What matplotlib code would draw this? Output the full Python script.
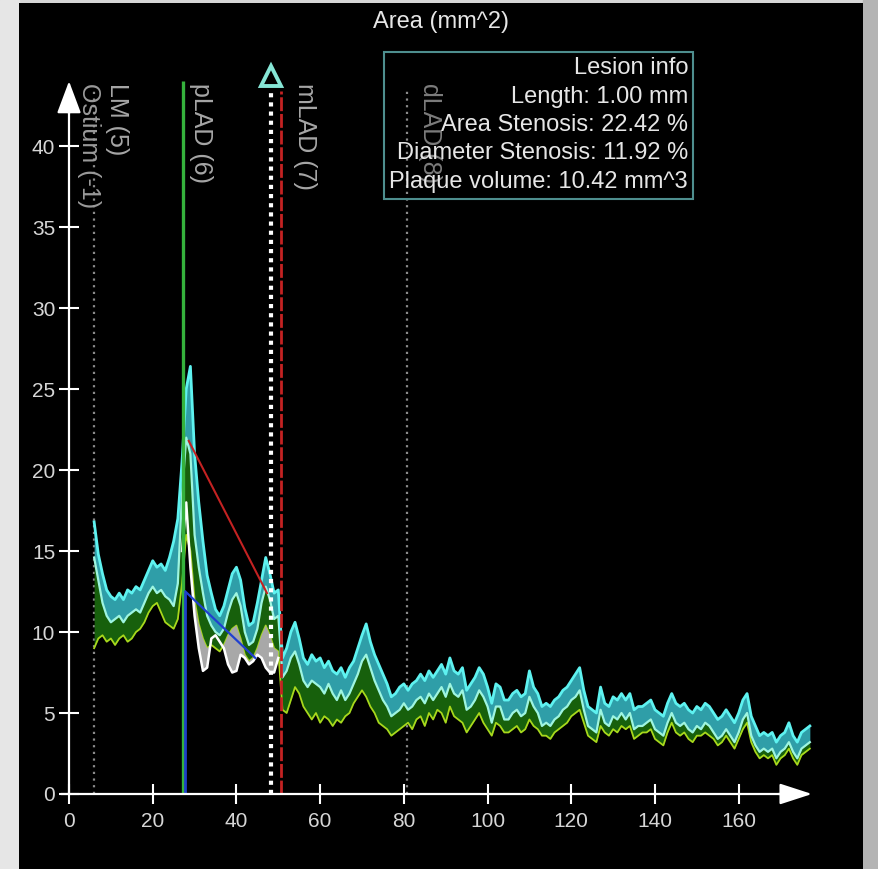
import matplotlib
matplotlib.use("Agg")
import matplotlib.pyplot as plt
import numpy as np

plt.rcParams['font.family'] = ['Liberation Sans', 'DejaVu Sans']

# distance along the vessel (mm), one sample per mm
dist = list(range(6, 178))

# outer wall area (top edge of the cyan band)
outer = [16.8, 14.8, 13.6, 12.6, 12.2, 12.0, 12.4, 12.0, 12.6, 12.4,
         12.8, 12.6, 13.2, 13.8, 14.4, 14.0, 14.2, 13.8, 14.6, 15.6,
         17.0, 20.5, 25.0, 26.4, 21.0, 18.0, 15.6, 13.5, 12.4, 11.4,
         11.0, 11.6, 12.6, 13.6, 14.0, 13.2, 11.5, 10.4, 10.6, 11.8,
         13.2, 14.6, 13.6, 12.4, 12.6, 8.4, 9.0, 10.0, 10.6, 9.6,
         8.4, 8.0, 8.6, 8.2, 8.4, 7.8, 8.2, 7.6, 7.4, 7.8,
         7.2, 7.8, 8.2, 9.0, 9.8, 10.5, 9.4, 8.6, 8.0, 7.4,
         6.8, 6.0, 6.2, 6.6, 6.8, 6.4, 6.8, 7.0, 7.4, 7.0,
         7.6, 7.2, 7.6, 8.0, 7.4, 8.4, 7.6, 7.4, 7.8, 6.4,
         6.8, 7.2, 7.8, 7.4, 6.6, 5.6, 6.8, 6.6, 5.8, 5.8,
         6.2, 6.4, 6.0, 6.2, 7.6, 6.6, 6.2, 5.4, 5.6, 5.4,
         5.8, 6.0, 6.4, 6.6, 7.0, 7.4, 7.8, 6.4, 5.4, 5.2,
         5.0, 6.6, 5.6, 5.4, 6.0, 5.8, 6.2, 5.8, 6.2, 5.2,
         5.4, 5.4, 5.6, 5.8, 5.2, 5.0, 4.8, 5.6, 6.2, 5.6,
         5.4, 5.6, 5.2, 5.0, 5.4, 5.2, 5.6, 5.4, 5.0, 4.6,
         4.8, 5.2, 4.8, 4.4, 5.0, 5.8, 6.2, 4.8, 4.2, 3.6,
         3.8, 3.6, 3.8, 3.2, 3.6, 3.8, 4.4, 3.6, 3.2, 3.8,
         4.0, 4.2]

# inner edge of the cyan band
inner = [14.6, 13.2, 11.8, 11.0, 10.6, 10.8, 11.0, 10.6, 11.0, 11.2,
         11.4, 11.2, 11.8, 12.4, 12.8, 12.4, 12.6, 12.2, 12.0, 11.6,
         13.0, 18.5, 22.0, 21.0, 16.0, 14.0, 12.4, 11.0, 10.4, 10.0,
         9.8, 10.2, 11.2, 12.0, 12.4, 11.6, 10.0, 9.2, 9.4, 10.2,
         11.8, 12.8, 12.0, 10.8, 11.0, 7.2, 7.6, 8.4, 8.8, 8.0,
         7.0, 6.6, 7.0, 6.8, 6.6, 6.2, 6.8, 6.2, 5.8, 6.4,
         5.8, 6.2, 6.8, 7.4, 8.2, 8.6, 7.8, 7.0, 6.4, 5.8,
         5.4, 4.8, 5.0, 5.2, 5.6, 5.2, 5.4, 5.8, 6.0, 5.6,
         6.2, 5.8, 6.2, 6.6, 6.0, 6.8, 6.2, 6.0, 6.4, 5.2,
         5.4, 5.8, 6.4, 6.0, 5.4, 4.4, 5.4, 5.4, 4.6, 4.6,
         5.0, 5.2, 4.8, 5.0, 6.0, 5.4, 5.0, 4.2, 4.4, 4.2,
         4.6, 4.8, 5.2, 5.4, 5.8, 6.0, 6.4, 5.2, 4.2, 4.0,
         3.8, 5.2, 4.4, 4.2, 4.8, 4.6, 5.0, 4.6, 5.0, 4.0,
         4.2, 4.2, 4.4, 4.6, 4.0, 3.8, 3.6, 4.4, 5.0, 4.4,
         4.2, 4.4, 4.0, 3.8, 4.2, 4.0, 4.4, 4.2, 3.8, 3.4,
         3.6, 4.0, 3.6, 3.2, 3.8, 4.6, 5.0, 3.6, 3.0, 2.6,
         2.8, 2.6, 2.8, 2.2, 2.6, 2.8, 3.2, 2.6, 2.2, 2.8,
         3.0, 3.2]

# bottom of the green band
green = [9.0, 9.6, 9.8, 9.4, 9.6, 9.2, 9.6, 9.8, 9.4, 9.6,
         10.0, 10.2, 10.6, 11.2, 11.6, 11.8, 11.2, 10.6, 10.4, 10.2,
         10.8, 13.0, 16.0, 15.0, 12.0, 10.5, 9.6, 9.0, 9.2, 9.0,
         8.8, 9.2, 9.8, 10.2, 10.4, 9.6, 8.6, 8.2, 8.4, 9.0,
         9.8, 10.4, 9.8, 9.0, 8.8, 5.2, 5.0, 5.8, 6.6, 6.2,
         5.4, 5.0, 4.6, 5.0, 4.4, 4.8, 4.6, 4.2, 4.6, 4.4,
         4.8, 5.0, 5.6, 6.0, 6.4, 6.0, 5.4, 5.0, 4.4, 4.2,
         4.0, 3.6, 3.8, 4.0, 4.2, 4.4, 4.0, 4.6, 4.8, 4.2,
         5.0, 4.6, 5.2, 5.0, 4.4, 5.4, 4.8, 4.6, 4.4, 3.8,
         4.2, 4.6, 5.0, 4.4, 4.0, 3.6, 4.4, 4.2, 3.8, 3.8,
         4.0, 4.2, 3.8, 4.0, 4.6, 4.2, 4.0, 3.6, 3.6, 3.4,
         3.8, 4.0, 4.2, 4.4, 4.8, 5.0, 5.2, 4.4, 3.6, 3.4,
         3.2, 4.2, 3.8, 3.6, 4.0, 3.8, 4.2, 4.0, 4.2, 3.4,
         3.6, 3.8, 3.8, 4.0, 3.4, 3.2, 3.0, 3.8, 4.4, 3.8,
         3.6, 3.8, 3.4, 3.2, 3.6, 3.6, 3.8, 3.6, 3.4, 3.0,
         3.2, 3.6, 3.2, 2.8, 3.4, 4.0, 4.4, 3.2, 2.6, 2.2,
         2.4, 2.2, 2.4, 1.8, 2.2, 2.4, 2.8, 2.2, 1.8, 2.4,
         2.6, 2.8]

# lumen in the lesion segment (white outline)
lumen_x = list(range(27, 51))
lumen = [15.0, 18.0, 14.0, 11.0, 9.0, 7.6, 7.8, 9.6, 9.8, 9.4,
         9.0, 8.0, 7.5, 7.6, 8.6, 8.4, 8.0, 8.2, 8.6, 8.4,
         7.8, 7.5, 7.5, 8.4]

# reference lines of the lesion
ref_x = [28.6, 47.3]
ref_outer = [21.8, 12.4]
ref_lumen = [12.5, 8.4]

# segment markers
seg_pos = [6.0, 27.2, 50.6, 80.7]
lesion_pos = 48.3
info_lines = ["Lesion info", "Length: 1.00 mm", "Area Stenosis: 22.42 %",
              "Diameter Stenosis: 11.92 %", "Plaque volume: 10.42 mm^3"]

X_END = 177.5
Y_END = 44.0

fig = plt.figure(figsize=(8.79, 8.69), dpi=100, facecolor='#d6d6d6')
fig.patches.append(plt.Rectangle((0, 0), 19/879, 1, transform=fig.transFigure,
                                 color='#e6e6e6', zorder=-2))
fig.patches.append(plt.Rectangle((863/879, 0), 16/879, 1, transform=fig.transFigure,
                                 color='#b4b4b4', zorder=-2))
ax = fig.add_axes([19/879, 0, 844/879, 866/869])
ax.set_facecolor('black')
ax.set_xlim(-11.95, 189.7)
ax.set_ylim(-4.63, 48.83)

d = np.array(dist)
o = np.array(outer)
i_ = np.array(inner)
g = np.array(green)

# green band and cyan band
ax.fill_between(d, g, i_, color='#17600c', lw=0, zorder=2)
ax.plot(d, g, color='#a8d81c', lw=1.3, zorder=3)
ax.fill_between(d, i_, o, color='#2f9ea8', lw=0, zorder=4)
ax.plot(d, i_, color='#9ef5e0', lw=1.6, zorder=5)
ax.plot(d, o, color='#5ef2f0', lw=2.0, zorder=5)

# lumen outline with grey plaque fill
lx = np.array(lumen_x)
lv = np.array(lumen)
gseg = g[(d >= 27) & (d <= 50)]
ax.fill_between(lx, lv, gseg, where=gseg > lv, interpolate=True,
                color='#a8a8a8', lw=0, zorder=3.5)
ax.plot(lx, lv, color='white', lw=1.8, zorder=3.6)

# vertical markers
ax.vlines(seg_pos[0], 0, 43.6, colors='#8a8a8a', linestyles=(0, (1, 2)), lw=1.6, zorder=1)
ax.vlines(seg_pos[1], 0, 44.0, colors='#35b23c', lw=2.4, zorder=6)
ax.vlines(seg_pos[1] + 0.6, 0, 12.5, colors='#1e3fc8', lw=2.0, zorder=6)
ax.vlines(seg_pos[2], 0, 43.4, colors='#c42222', linestyles=(0, (5, 1)), lw=2.0, zorder=6)
ax.vlines(seg_pos[3], 0, 43.6, colors='#8a8a8a', linestyles=(0, (1, 2)), lw=1.6, zorder=1)
ax.vlines(lesion_pos, 0, 43.3, colors='white', linestyles=(0, (1, 1.2)), lw=3.0, zorder=7)
ax.plot([lesion_pos], [44.3], marker='^', ms=15, mfc='none', mec='#86e6d6',
        mew=2.8, zorder=8)

ax.plot(ref_x, ref_outer, color='#c42222', lw=1.5, zorder=6)
ax.plot([27.8, 44.5], ref_lumen, color='#2040d0', lw=1.6, zorder=6)

# rotated segment labels
lab_kw = dict(rotation=-90, va='top', ha='center', fontsize=18, zorder=9)
ax.text(4.8, 43.9, "Ostium (-1)", color='#9a9a9a', **lab_kw)
ax.text(11.4, 43.9, "LM (5)", color='#a6a6a6', **lab_kw)
ax.text(31.5, 43.9, "pLAD (6)", color='#a6a6a6', **lab_kw)
ax.text(56.4, 43.9, "mLAD (7)", color='#a6a6a6', **lab_kw)
ax.text(86.3, 43.9, "dLAD (8)", color='#7c7c7c', **lab_kw)

# axes with arrows
for s in ['top', 'right']:
    ax.spines[s].set_visible(False)
ax.spines['left'].set_position(('data', 0))
ax.spines['bottom'].set_position(('data', 0))
ax.spines['left'].set_bounds(0, Y_END - 1)
ax.spines['bottom'].set_bounds(-1.6, X_END - 3)
for s in ['left', 'bottom']:
    ax.spines[s].set_color('white')
    ax.spines[s].set_linewidth(1.6)
    ax.spines[s].set_zorder(10)
ax.annotate('', xy=(0, Y_END), xytext=(0, Y_END - 2),
            arrowprops=dict(arrowstyle='-|>,head_length=0.4,head_width=0.15',
                            mutation_scale=50, color='white', lw=1.6,
                            shrinkA=0, shrinkB=0), zorder=11)
ax.annotate('', xy=(X_END, 0), xytext=(X_END - 8, 0),
            arrowprops=dict(arrowstyle='-|>,head_length=0.4,head_width=0.13',
                            mutation_scale=50, color='white', lw=1.6,
                            shrinkA=0, shrinkB=0), zorder=11)

ax.set_xticks(np.arange(0, 161, 20))
ax.set_yticks(np.arange(0, 41, 5))
ax.tick_params(direction='inout', length=14, width=1.5, color='white',
               labelcolor='#d6d6d6', labelsize=15)
ax.tick_params(axis='y', pad=3)
ax.tick_params(axis='x', pad=6)

# title and lesion box
ax.text(88.9, 47.65, "Area (mm^2)", color='#e6e6e6', fontsize=17,
        ha='center', va='center')
ax.add_patch(plt.Rectangle((75.3, 36.7), 73.8, 9.1, fill=False,
                           ec='#4e8e8e', lw=1.5, zorder=12))
for k, line in enumerate(info_lines):
    ax.text(147.9, 44.8 - 1.75 * k, line, color='#e6e6e6', fontsize=17,
            ha='right', va='center', zorder=13)

fig.savefig("out.png", dpi=100, facecolor=fig.get_facecolor())
